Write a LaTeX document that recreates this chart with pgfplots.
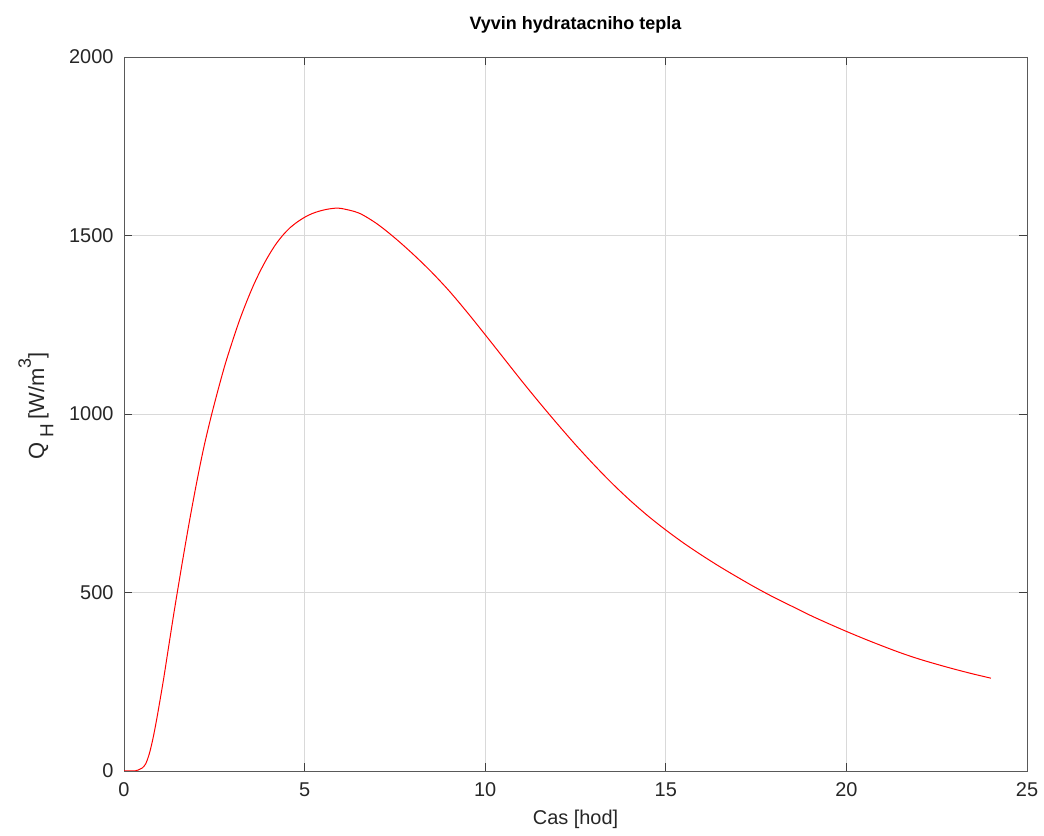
\documentclass[border=0pt]{standalone}
\usepackage{fontspec}
\setmainfont{Liberation Sans}
\usepackage{pgfplots}
\pgfplotsset{compat=1.18}
\begin{document}
\begin{tikzpicture}[x=1bp,y=1bp]
\useasboundingbox (0,0) rectangle (1044,836);
\begin{axis}[
  at={(124bp,65bp)}, anchor=south west,
  scale only axis, width=903bp, height=714bp,
  xmin=0, xmax=25, ymin=0, ymax=2000,
  xtick={0,5,...,25}, ytick={0,500,...,2000},
  grid=major,
  major grid style={black!15, line width=0.8bp},
  axis line style={black!65, line width=0.9bp},
  tick style={black!75, line width=0.9bp},
  tick align=inside, major tick length=8bp,
  /pgf/number format/assume math mode=true,
  /pgf/number format/1000 sep={},
  tick label style={font=\fontsize{20}{24}\selectfont, text=black!85},
  xticklabel style={yshift=-8bp},
  yticklabel style={xshift=-7bp},
  title={\textbf{Vyvin hydratacniho tepla}},
  title style={font=\fontsize{18}{22}\selectfont, yshift=14bp},
  xlabel={Cas [hod]},
  ylabel={Q\hspace{5bp}\raisebox{-0.42em}{\fontsize{19}{22}\selectfont H}\hspace{4bp}[W/m\raisebox{0.6em}{\fontsize{18}{20}\selectfont 3}]},
  label style={text=black!85},
  xlabel style={font=\fontsize{20}{24}\selectfont, yshift=-7bp},
  ylabel style={font=\fontsize{22}{26}\selectfont, yshift=9bp, xshift=8bp},
]
\addplot[red, line width=1bp, smooth] coordinates {
(0,0) (0.2,0) (0.3,0) (0.4,3) (0.5,8) (0.6,20) (0.7,48) (0.8,90) (0.9,142)
(1.0,200) (1.1,260) (1.2,325) (1.3,390) (1.4,454) (1.6,576) (1.8,693)
(2.0,802) (2.2,902) (2.4,988) (2.6,1066) (2.8,1139) (3.0,1203) (3.2,1263)
(3.4,1316) (3.6,1364) (3.8,1406) (4.0,1443) (4.2,1475) (4.4,1501) (4.6,1522)
(4.8,1538) (5.0,1551) (5.2,1561) (5.4,1568) (5.6,1573) (5.8,1576) (6.0,1576)
(6.5,1563) (7.0,1533) (7.5,1493) (8.0,1448) (8.5,1399) (9.0,1345) (9.5,1285)
(10.0,1222) (10.5,1158) (11.0,1094) (11.5,1032) (12.0,972) (12.5,914)
(13.0,859) (13.5,807) (14.0,759) (14.5,715) (15.0,675) (15.5,638) (16.0,604)
(16.5,572) (17.0,542) (17.5,513) (18.0,486) (18.5,461) (19.0,436) (19.5,413)
(20.0,391) (20.5,370) (21.0,350) (21.5,331) (22.0,314) (22.5,299) (23.0,285)
(23.5,272) (24.0,260)
};
\end{axis}
\end{tikzpicture}
\end{document}
